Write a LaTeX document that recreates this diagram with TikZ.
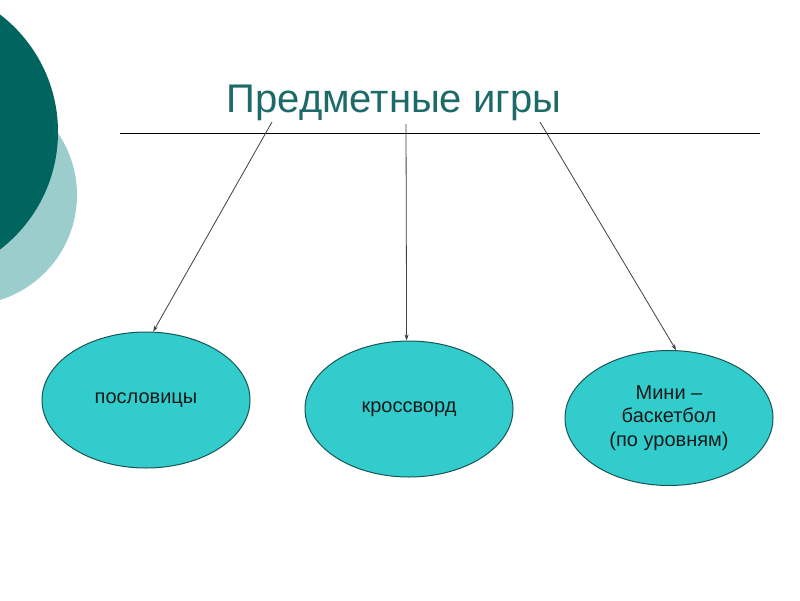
\documentclass[tikz,border=0pt]{standalone}
\usepackage{fontspec}
\setmainfont{Liberation Sans}
\usetikzlibrary{shapes.geometric,arrows.meta}
\definecolor{darkteal}{HTML}{00655F}
\definecolor{lightteal}{HTML}{9CCDCD}
\definecolor{titleteal}{HTML}{1D6B69}
\definecolor{ellfill}{HTML}{33CCCC}
\definecolor{ellline}{HTML}{1A5555}
\tikzset{
  oval/.style={ellipse, draw=ellline, line width=1pt, fill=ellfill,
    minimum width=208pt, minimum height=136pt, inner sep=0pt,
    font=\fontsize{20}{23.5}\selectfont, text=black!90, align=center},
  conn/.style={draw=black!75, line width=0.8pt, -{Stealth[length=6pt,width=4pt]}}
}
\begin{document}
\begin{tikzpicture}[x=1pt,y=-1pt]
\useasboundingbox (0,0) rectangle (800,600);
\fill[white] (0,0) rectangle (800,600);
\begin{scope}
\clip (0,0) rectangle (800,600);
\fill[lightteal] (-33,195) circle[radius=110];
\fill[darkteal] (-90,132) circle[radius=148];
\end{scope}
\node[text=titleteal, font=\fontsize{40}{48}\selectfont, anchor=base] (title) at (394,112) {Предметные игры};
\coordinate (hl) at (120,133);
\coordinate (hr) at (760,133);
\draw[line width=0.9pt] (hl) -- (hr);
\node[oval] (e1) at (146,400) {пословицы};
\node[oval] (e2) at (409,409) {кроссворд};
\node[oval, minimum height=135pt] (e3) at (669,418) {Мини –\\баскетбол\\(по уровням)};
\coordinate (s1) at (272,122);
\coordinate (s2) at (406,124);
\coordinate (s3) at (540,122);
\draw[conn] (s1) -- (e1.84);
\draw[conn] (s2) -- (e2.92);
\draw[conn] (s3) -- (e3.84);
\end{tikzpicture}
\end{document}
